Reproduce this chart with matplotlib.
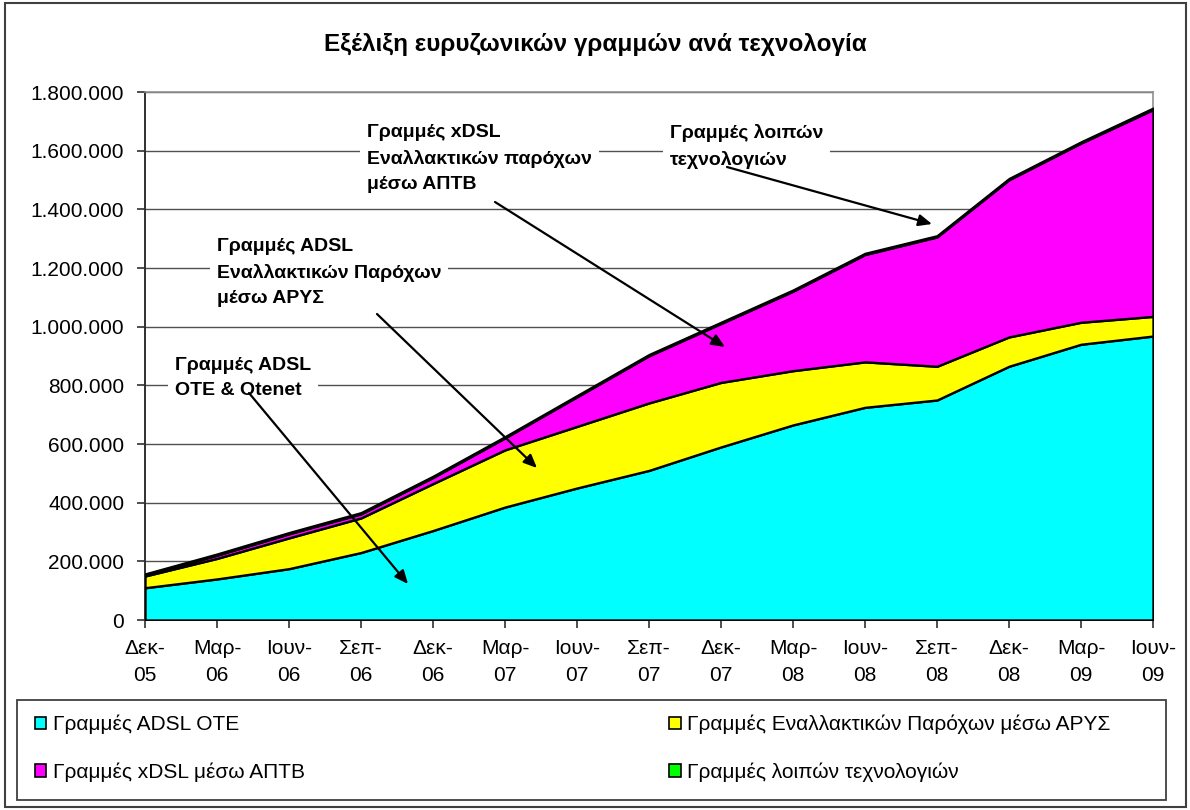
import matplotlib
matplotlib.use("Agg")
import matplotlib.pyplot as plt
import numpy as np
from matplotlib.patches import Patch, Rectangle
from matplotlib.ticker import FixedLocator

plt.rcParams['font.family'] = ['Liberation Sans', 'DejaVu Sans']

# ---- data ----
periods = ["Δεκ-\n05", "Μαρ-\n06", "Ιουν-\n06", "Σεπ-\n06", "Δεκ-\n06", "Μαρ-\n07", "Ιουν-\n07",
           "Σεπ-\n07", "Δεκ-\n07", "Μαρ-\n08", "Ιουν-\n08", "Σεπ-\n08", "Δεκ-\n08", "Μαρ-\n09", "Ιουν-\n09"]
adsl_ote = [110000, 140000, 175000, 230000, 305000, 385000, 450000, 510000, 590000,
            665000, 725000, 750000, 865000, 940000, 968000]
arys = [40000, 70000, 105000, 118000, 160000, 195000, 210000, 230000, 220000,
        185000, 155000, 115000, 100000, 75000, 67000]
aptb = [3000, 11000, 14000, 14000, 21000, 41000, 101000, 161000, 201000,
        271000, 366000, 441000, 536000, 611000, 705000]
other = [4000, 4000, 4000, 4000, 4000, 4000, 4000, 4000, 4000,
         4000, 4000, 4000, 4000, 4000, 5000]
series_names = ["Γραμμές ADSL OTE", "Γραμμές Εναλλακτικών Παρόχων μέσω ΑΡΥΣ",
                "Γραμμές xDSL μέσω ΑΠΤΒ", "Γραμμές λοιπών τεχνολογιών"]
series_colors = ["#00FFFF", "#FFFF00", "#FF00FF", "#00FF00"]
yticks = [0, 200000, 400000, 600000, 800000, 1000000, 1200000, 1400000, 1600000, 1800000]
ytick_labels = ["0", "200.000", "400.000", "600.000", "800.000", "1.000.000",
                "1.200.000", "1.400.000", "1.600.000", "1.800.000"]
title = "Εξέλιξη ευρυζωνικών γραμμών ανά τεχνολογία"

W, H = 1190, 810
fig = plt.figure(figsize=(W / 100, H / 100), dpi=100)

def fx(px):
    return px / W

def fy(py):
    return 1 - py / H

ax = fig.add_axes([fx(145), fy(620), fx(1153) - fx(145), fy(92) - fy(620)])
x = np.arange(len(periods))
ax.stackplot(x, adsl_ote, arys, aptb, other, colors=series_colors,
             edgecolor="black", linewidth=1.7, zorder=3)
ax.set_xlim(0, len(periods) - 1)
ax.set_ylim(0, 1800000)
ax.yaxis.set_major_locator(FixedLocator(yticks))
ax.set_yticklabels(ytick_labels, fontsize=15)
ax.set_xticks(x)
ax.set_xticklabels(periods, fontsize=15, linespacing=1.5)
ax.grid(axis="y", color="#505050", linewidth=1, zorder=0)
ax.set_axisbelow(True)
for s in ["top", "right"]:
    ax.spines[s].set_color("#909090")
    ax.spines[s].set_linewidth(1.2)
for s in ["left", "bottom"]:
    ax.spines[s].set_color("#303030")
    ax.spines[s].set_linewidth(1.4)
ax.tick_params(direction="out", length=6, width=1.2, color="#303030")
ax.tick_params(axis="y", pad=9)
ax.tick_params(axis="x", pad=8)

fig.text(0.5, fy(44), title, ha="center", va="center", fontsize=17.5, fontweight="bold")

arrow = dict(arrowstyle="-|>,head_length=0.8,head_width=0.35", color="black", lw=1.6,
             shrinkA=0, shrinkB=0)

def annotate(text, tx, ty, sx, sy, ex, ey):
    fig.text(fx(tx), fy(ty), text, fontsize=14, fontweight="bold", linespacing=1.62,
             ha="left", va="top", zorder=10,
             bbox=dict(boxstyle="square,pad=0.35", fc="white", ec="none"))
    fig.add_artist(plt.Annotation("", xy=(fx(ex), fy(ey)), xytext=(fx(sx), fy(sy)),
                                  xycoords="figure fraction", textcoords="figure fraction",
                                  arrowprops=arrow, zorder=11))

annotate("Γραμμές xDSL\nΕναλλακτικών παρόχων\nμέσω ΑΠΤΒ", 367, 124, 495, 202, 725, 347)
annotate("Γραμμές λοιπών\nτεχνολογιών", 670, 124, 727, 167, 932, 224)
annotate("Γραμμές ADSL\nΕναλλακτικών Παρόχων\nμέσω ΑΡΥΣ", 217, 238, 377, 314, 537, 468)
annotate("Γραμμές ADSL\nOTE & Otenet", 175, 357, 249, 393, 408, 584)

# legend frame
fig.add_artist(Rectangle((fx(17), fy(800)), fx(1166) - fx(17), fy(700) - fy(800),
                         transform=fig.transFigure, fill=False, ec="#404040", lw=1.3))
handles = [Patch(facecolor=c, edgecolor="black", linewidth=1.2) for c in series_colors]
order = [0, 2, 1, 3]
leg = fig.legend([handles[i] for i in order], [series_names[i] for i in order],
                 ncol=2, loc="upper left", bbox_to_anchor=(fx(35), fy(715)),
                 frameon=False, fontsize=15, handlelength=0.55, handleheight=0.55,
                 handletextpad=0.3, columnspacing=17.5, labelspacing=1.35,
                 borderaxespad=0, borderpad=0)

# outer border
fig.add_artist(Rectangle((fx(5), fy(807)), fx(1186) - fx(5), fy(3) - fy(807),
                         transform=fig.transFigure, fill=False, ec="#404040", lw=1.5))

fig.savefig("out.png", dpi=100)
